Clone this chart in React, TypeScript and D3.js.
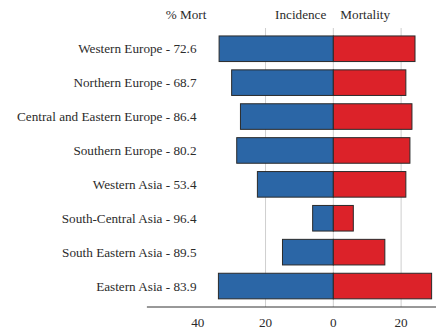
import React from "react";
import * as d3 from "d3";

// Regions with their mortality-to-incidence percentage
const regions = [
  "Western Europe",
  "Northern Europe",
  "Central and Eastern Europe",
  "Southern Europe",
  "Western Asia",
  "South-Central Asia",
  "South Eastern Asia",
  "Eastern Asia",
];
const pctMort = [72.6, 68.7, 86.4, 80.2, 53.4, 96.4, 89.5, 83.9];
// Age-standardised rates (left: incidence, right: mortality)
const incidence = [33.7, 30.0, 27.4, 28.5, 22.4, 6.1, 15.0, 33.9];
const mortality = [24.1, 21.4, 23.2, 22.6, 21.4, 5.9, 15.2, 29.0];
const tickValues = [-40, -20, 0, 20];
const gridValues = [-20, 0, 20];

const W = 436;
const H = 332;
const textStyle: React.CSSProperties = {
  fontFamily: '"Liberation Serif"',
  fontSize: "13.2px",
};
const BLUE = "#2b66a6";
const RED = "#dc2229";

export default function App() {
  const x = d3.scaleLinear().domain([-55, 30.5]).range([146.9, 436.7]);
  const y = d3
    .scaleBand<string>()
    .domain(regions)
    .range([31.8, 303])
    .paddingInner(0.245)
    .paddingOuter(0.1225);
  const axisY = 307;
  const x0 = x(0);

  return (
    <svg
      width={W}
      height={H}
      style={{ position: "absolute", left: 0, top: 0, background: "#fff" }}
    >
      {gridValues.map((v) => (
        <line
          key={v}
          x1={x(v)}
          x2={x(v)}
          y1={28}
          y2={axisY}
          stroke="#cfcfcf"
          strokeWidth={1}
        />
      ))}
      {regions.map((r, i) => {
        const top = y(r)!;
        const bh = y.bandwidth();
        return (
          <g key={r}>
            <rect
              x={x(-incidence[i])}
              y={top}
              width={x0 - x(-incidence[i])}
              height={bh}
              fill={BLUE}
              stroke="#2a2a2a"
              strokeWidth={1}
            />
            <rect
              x={x0}
              y={top}
              width={x(mortality[i]) - x0}
              height={bh}
              fill={RED}
              stroke="#2a2a2a"
              strokeWidth={1}
            />
            <text
              x={196.5}
              y={top + bh / 2}
              dy="0.35em"
              textAnchor="end"
              style={textStyle}
              fill="#2b2b2b"
            >
              {`${r} - ${pctMort[i]}`}
            </text>
          </g>
        );
      })}
      <line x1={x(-55)} x2={W} y1={axisY} y2={axisY} stroke="#333" strokeWidth={1} />
      {tickValues.map((v) => (
        <text
          key={v}
          x={x(v)}
          y={327}
          textAnchor="middle"
          style={textStyle}
          fill="#2b2b2b"
        >
          {Math.abs(v)}
        </text>
      ))}
      <text x={186} y={19} textAnchor="middle" style={textStyle} fill="#2b2b2b">
        % Mort
      </text>
      <text x={x0 - 7} y={19} textAnchor="end" style={textStyle} fill="#2b2b2b">
        Incidence
      </text>
      <text x={x0 + 7} y={19} textAnchor="start" style={textStyle} fill="#2b2b2b">
        Mortality
      </text>
    </svg>
  );
}
